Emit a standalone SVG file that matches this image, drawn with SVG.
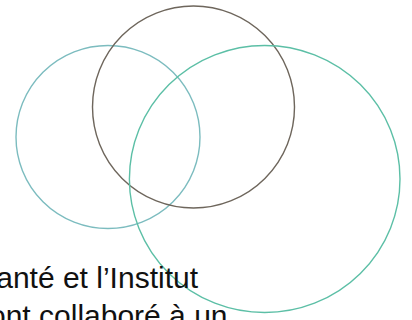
<svg xmlns="http://www.w3.org/2000/svg" width="412" height="320" viewBox="0 0 412 320">
<style>
.c{fill:none;stroke-width:1.4}
.t{font-family:"Liberation Sans",Arial,sans-serif;font-size:30px;fill:#111}
</style>
<rect width="412" height="320" fill="#fff"/>
<g id="circle-left"><ellipse class="c" cx="108" cy="137" rx="92" ry="91.5" stroke="#7cbcbf"/></g>
<g id="circle-top"><ellipse class="c" cx="193.5" cy="107" rx="101" ry="101" stroke="#6e665c"/></g>
<g id="circle-right"><ellipse class="c" cx="264.7" cy="179" rx="135.3" ry="133.5" stroke="#5cbfa6"/></g>
<g id="text">
<text class="t" x="198" y="288" text-anchor="end">anté et l’Institut</text>
<text class="t" x="-11" y="326">ont collaboré à un</text>
</g>
</svg>
